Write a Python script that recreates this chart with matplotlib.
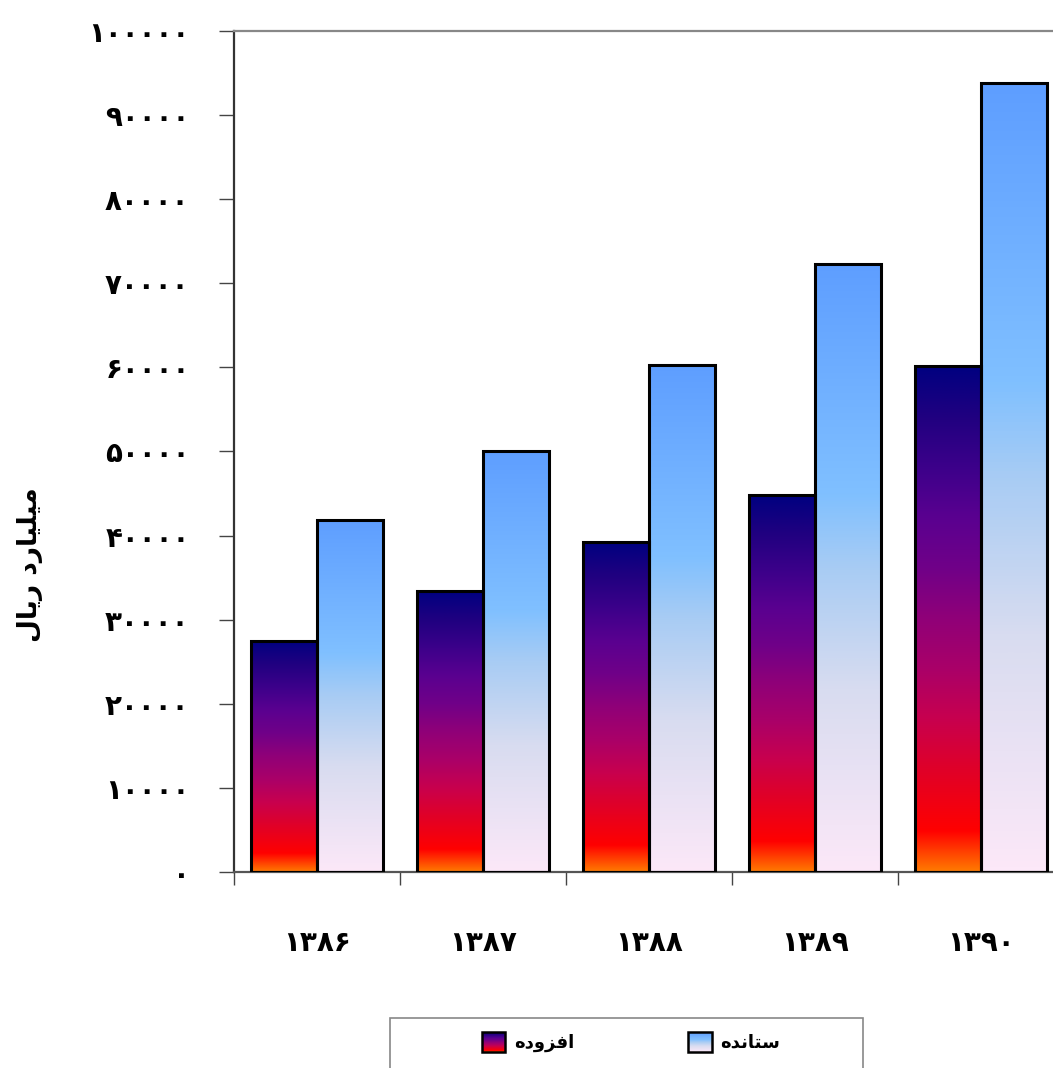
import numpy as np
import matplotlib
matplotlib.use('Agg')
import matplotlib.pyplot as plt
from matplotlib.colors import LinearSegmentedColormap
from matplotlib.patches import Rectangle, Patch
from matplotlib.legend_handler import HandlerBase

# data (milliard rials)
years = ['1386', '1387', '1388', '1389', '1390']
afzoode = [27500, 33400, 39200, 44800, 60200]
setande = [41900, 50100, 60300, 72300, 93800]
yticks = [0, 10000, 20000, 30000, 40000, 50000, 60000, 70000, 80000, 90000, 100000]

FA = str.maketrans('0123456789', '۰۱۲۳۴۵۶۷۸۹')

def fa(n):
    return str(n).translate(FA)

def shaped(codes):
    # matplotlib does no arabic shaping: use presentation forms, visual order
    return ''.join(c if isinstance(c, str) else chr(c) for c in codes)[::-1]

ylab = shaped([0xFEE3, 0xFBFF, 0xFEE0, 0xFBFF, 0xFE8E, 0xFEAD, 0xFEA9, ' ',
               0xFEAD, 0xFBFE, 0xFE8E, 0xFEDD])
lab_afz = shaped([0xFE8D, 0xFED3, 0xFEB0, 0xFEED, 0xFEA9, 0xFEE9])
lab_set = shaped([0xFEB3, 0xFE98, 0xFE8E, 0xFEE7, 0xFEAA, 0xFEE9])

cm_afz = LinearSegmentedColormap.from_list('afz', [
    (0.0, '#ff7a00'), (0.08, '#ff0000'), (0.2, '#e00028'), (0.3, '#c8004e'),
    (0.4, '#aa0068'), (0.5, '#900078'), (0.6, '#700088'), (0.7, '#5a0090'),
    (0.8, '#3c008a'), (0.9, '#200080'), (1.0, '#000080')])
cm_set = LinearSegmentedColormap.from_list('set', [
    (0.0, '#fce8f8'), (0.3, '#d8dcf0'), (0.5, '#a8ccf4'), (0.62, '#80c0ff'),
    (1.0, '#5e9eff')])

plt.rcParams['font.family'] = ['DejaVu Sans']
plt.rcParams['font.weight'] = 'bold'

fig = plt.figure(figsize=(10.53, 10.68), dpi=100)
ax = fig.add_axes([234 / 1053, 1 - 872 / 1068, 830 / 1053, 841 / 1068])

x = np.arange(len(years))
w = 0.4
grad = np.linspace(0, 1, 256).reshape(-1, 1)

for vals, off, cmap in [(afzoode, -w / 2, cm_afz), (setande, w / 2, cm_set)]:
    bars = ax.bar(x + off, vals, w, facecolor='none', edgecolor='black',
                  linewidth=2.2, zorder=3)
    for b in bars:
        x0, y0 = b.get_x(), b.get_y()
        im = ax.imshow(grad, extent=[x0, x0 + b.get_width(), y0, y0 + b.get_height()],
                       origin='lower', aspect='auto', cmap=cmap, zorder=2,
                       interpolation='bilinear')
        im.set_clip_path(b)

ax.set_xlim(-0.5, len(years) - 0.5)
ax.set_ylim(0, 100000)

ax.set_yticks(yticks)
ax.set_yticklabels([fa(v) for v in yticks], fontsize=20, fontweight='bold')
ax.tick_params(axis='y', length=11, width=1, color='#444444', pad=21)

ax.set_xticks(x)
ax.set_xticklabels([fa(y) for y in years], fontsize=20, fontweight='bold')
ax.set_xticks(np.arange(-0.5, len(years)), minor=True)
ax.tick_params(axis='x', which='major', length=0, pad=41)
ax.tick_params(axis='x', which='minor', length=9, width=1, color='#444444')

ax.spines['left'].set_color('#333333')
ax.spines['left'].set_linewidth(1.6)
ax.spines['bottom'].set_color('#555555')
ax.spines['bottom'].set_linewidth(1.6)
ax.spines['top'].set_color('#888888')
ax.spines['top'].set_linewidth(1.6)
ax.spines['right'].set_color('#888888')

fig.text(30 / 1053, 1 - 565 / 1068, ylab, rotation=90, ha='center', va='center',
         fontsize=19, fontweight='bold')


class GradHandler(HandlerBase):
    def __init__(self, cmap):
        super().__init__()
        self.cmap = cmap

    def create_artists(self, legend, orig_handle, xdescent, ydescent, width,
                       height, fontsize, trans):
        n = 20
        arts = []
        for i in range(n):
            arts.append(Rectangle((-xdescent, -ydescent + height * i / n), width,
                                  height / n + 0.3, facecolor=self.cmap((i + 0.5) / n),
                                  edgecolor='none', transform=trans))
        arts.append(Rectangle((-xdescent, -ydescent), width, height, facecolor='none',
                              edgecolor='black', linewidth=1.8, transform=trans))
        return arts


h1 = Patch(label=lab_afz)
h2 = Patch(label=lab_set)
fig.legend([h1, h2], [lab_afz, lab_set], loc='center',
           bbox_to_anchor=(631 / 1053, 1 - 1042 / 1068), ncol=2, frameon=False,
           handler_map={h1: GradHandler(cm_afz), h2: GradHandler(cm_set)},
           prop={'size': 13, 'weight': 'bold'}, handlelength=1.3, handleheight=1.3,
           handletextpad=0.5, columnspacing=6.3)

fig.patches.append(Rectangle((390 / 1053, -0.05), 473 / 1053, 0.05 + 50 / 1068,
                             transform=fig.transFigure, facecolor='none',
                             edgecolor='#888888', linewidth=1.2))

fig.savefig('out.png', dpi=100)
